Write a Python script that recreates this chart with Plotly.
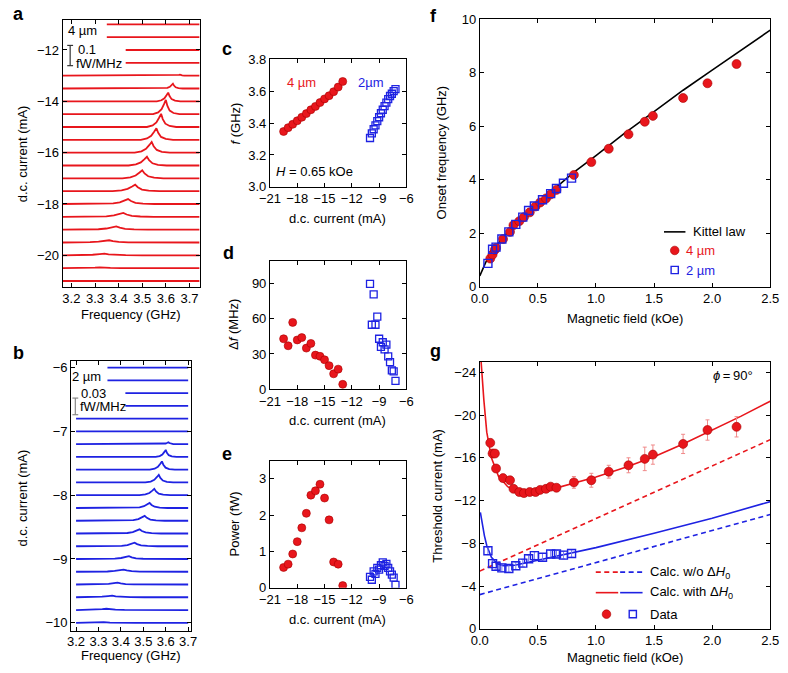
import plotly.graph_objects as go

W, H = 788, 673
RED = "#e8161c"
RED_EDGE = "#a80000"
RED_ERR = "#f08a8a"
BLUE = "#1e22e2"
FONT = "Liberation Sans, Arial, Helvetica, sans-serif"

# ---------------- panel a : 4 um spectra ----------------
a_currents = [-11.0, -11.5, -12.0, -12.5, -13.0, -13.5, -14.0, -14.5, -15.0, -15.5, -16.0,
              -16.5, -17.0, -17.5, -18.0, -18.5, -19.0, -19.5, -20.0, -20.5, -21.0]
a_start = [3.35, 3.35, 3.43, 3.43, 3.163, 3.163, 3.163, 3.163, 3.163, 3.163, 3.163,
           3.163, 3.163, 3.163, 3.163, 3.163, 3.163, 3.163, 3.163, 3.163, 3.163]
a_end = 3.742
a_peak_f = [3.70, 3.70, 3.70, 3.70, 3.66, 3.63, 3.61, 3.60, 3.58, 3.56, 3.54,
            3.52, 3.50, 3.47, 3.44, 3.42, 3.39, 3.36, 3.34, 3.32, 3.30]
a_peak_h = [0, 0, 0, 0, 0.005, 0.024, 0.043, 0.070, 0.065, 0.057, 0.053,
            0.043, 0.040, 0.032, 0.024, 0.019, 0.016, 0.011, 0.008, 0.004, 0]   # fW/MHz
a_peak_w = [0.01, 0.01, 0.01, 0.01, 0.010, 0.013, 0.016, 0.018, 0.02, 0.022, 0.024,
            0.026, 0.028, 0.032, 0.035, 0.04, 0.042, 0.045, 0.05, 0.05, 0.05]    # GHz
A_SCALE = 7.9   # offset (mA) per fW/MHz

# ---------------- panel b : 2 um spectra ----------------
b_currents = [-6.0, -6.2, -6.4, -6.6, -6.8, -7.0, -7.2, -7.4, -7.6, -7.8, -8.0,
              -8.2, -8.4, -8.6, -8.8, -9.0, -9.2, -9.4, -9.6, -9.8, -10.0]
b_start = [3.34, 3.34, 3.42, 3.42, 3.2, 3.2, 3.2, 3.2, 3.2, 3.2, 3.2,
           3.2, 3.2, 3.2, 3.2, 3.2, 3.2, 3.2, 3.2, 3.2, 3.2]
b_end = 3.70
b_peak_f = [3.7, 3.7, 3.7, 3.7, 3.7, 3.7, 3.612, 3.600, 3.583, 3.569, 3.549,
            3.528, 3.506, 3.483, 3.461, 3.436, 3.412, 3.385, 3.361, 3.335, 3.306]
b_peak_h = [0, 0, 0, 0, 0, 0, 0.0035, 0.0127, 0.0150, 0.0138, 0.0115,
            0.0092, 0.0087, 0.0075, 0.0063, 0.0052, 0.0040, 0.0035, 0.0029, 0.0023, 0.0017]
b_peak_w = [0.01, 0.01, 0.01, 0.01, 0.01, 0.01, 0.012, 0.015, 0.018, 0.02, 0.022,
            0.025, 0.028, 0.03, 0.032, 0.035, 0.04, 0.04, 0.045, 0.045, 0.05]
B_SCALE = 8.67

# peak profile (offset in widths, fraction of height)
prof_off = [-3.0, -1.8, -1.0, -0.4, 0.0, 0.35, 0.9, 1.8, 3.2]
prof_frac = [0.0, 0.12, 0.35, 0.72, 1.0, 0.6, 0.25, 0.08, 0.0]

# ---------------- panels c, d, e ----------------
I4 = [-19.5, -19.0, -18.5, -18.0, -17.5, -17.0, -16.5, -16.0, -15.5, -15.0, -14.5, -14.0, -13.5, -13.0]
c_f4 = [3.347, 3.371, 3.392, 3.414, 3.436, 3.459, 3.483, 3.504, 3.528, 3.551, 3.571, 3.596, 3.625, 3.660]
d_df4 = [43, 37, 57, 42, 44, 35, 39, 29, 28, 25, 20, 13, 17, 4]
e_P4 = [0.56, 0.65, 0.93, 1.27, 1.65, 2.05, 2.55, 2.67, 2.85, 2.47, 1.87, 0.71, 0.65, 0.06]

I2 = [-10.0, -9.8, -9.6, -9.4, -9.2, -9.0, -8.8, -8.6, -8.4, -8.2, -8.0, -7.8, -7.6, -7.4, -7.2]
c_f2 = [3.306, 3.335, 3.361, 3.385, 3.412, 3.436, 3.461, 3.483, 3.506, 3.528, 3.549, 3.569, 3.583, 3.600, 3.612]
d_df2 = [90, 55, 81, 55, 62, 43, 36, 40, 34, 38, 28, 23, 16, 15, 7]
e_P2 = [0.30, 0.22, 0.45, 0.38, 0.55, 0.50, 0.62, 0.70, 0.60, 0.66, 0.55, 0.45, 0.36, 0.28, 0.08]

# ---------------- panel f ----------------
kit_H = [0.0, 0.05, 0.1, 0.2, 0.3, 0.4, 0.5, 0.6, 0.8, 1.0, 1.25, 1.5, 1.75, 2.0, 2.25, 2.5]
kit_f = [0.4, 0.9, 1.3, 1.85, 2.3, 2.72, 3.12, 3.5, 4.25, 4.9, 5.75, 6.55, 7.35, 8.1, 8.85, 9.6]
H4 = [0.09, 0.11, 0.13, 0.14, 0.20, 0.26, 0.29, 0.34, 0.38, 0.43, 0.48, 0.52, 0.57, 0.61, 0.66,
      0.81, 0.96, 1.11, 1.28, 1.42, 1.49, 1.75, 1.96, 2.21]
f_f4 = [1.05, 1.20, 1.38, 1.45, 1.78, 2.05, 2.30, 2.45, 2.60, 2.78, 3.00, 3.15, 3.30, 3.45, 3.62,
        4.18, 4.66, 5.16, 5.70, 6.17, 6.39, 7.06, 7.61, 8.33]
H2 = [0.07, 0.11, 0.14, 0.19, 0.25, 0.31, 0.37, 0.42, 0.47, 0.54, 0.61, 0.66, 0.72, 0.79]
f_f2 = [0.87, 1.40, 1.48, 1.78, 2.05, 2.33, 2.60, 2.85, 3.02, 3.25, 3.48, 3.67, 3.87, 4.06]

# ---------------- panel g ----------------
g_I4 = [-17.4, -16.4, -16.4, -15.0, -14.1, -13.9, -13.1, -12.8, -12.7, -12.8, -12.8, -13.0, -13.1,
        -13.3, -13.2, -13.7, -13.9, -14.7, -15.3, -15.9, -16.3, -17.3, -18.6, -18.9]
g_err4 = [0.3, 0.3, 0.3, 0.3, 0.3, 0.3, 0.3, 0.3, 0.3, 0.3, 0.3, 0.3, 0.3, 0.3, 0.3,
          0.55, 0.65, 0.6, 0.7, 1.1, 0.9, 0.9, 0.95, 0.95]
g_I2 = [-7.3, -6.1, -5.85, -5.7, -5.65, -5.9, -6.15, -6.55, -6.85, -6.7, -7.0, -7.0, -6.9, -7.05]
g_err2 = [0.35, 0.35, 0.35, 0.35, 0.35, 0.35, 0.35, 0.35, 0.35, 0.35, 0.35, 0.35, 0.35, 0.35]
rw_H = [0.008, 0.02, 0.035, 0.06, 0.1, 0.16, 0.24, 0.33, 0.45, 0.6, 0.8, 1.0, 1.25, 1.5, 1.75, 2.0, 2.25, 2.5]
rw_I = [-25.5, -23.5, -21.4, -18.4, -16.0, -14.3, -13.3, -12.8, -12.75, -13.0, -13.6, -14.2, -15.1,
        -16.1, -17.3, -18.6, -19.9, -21.3]
ro_H = [0.0, 2.5]
ro_I = [-5.4, -17.7]
bw_H = [0.005, 0.02, 0.04, 0.06, 0.1, 0.15, 0.2, 0.3, 0.45, 0.6, 0.8, 1.0, 1.5, 2.0, 2.5]
bw_I = [-10.9, -9.8, -8.7, -7.8, -6.7, -6.1, -5.9, -5.95, -6.3, -6.65, -7.1, -7.6, -8.95, -10.35, -11.9]
bo_H = [0.0, 2.5]
bo_I = [-3.2, -10.7]

# ---------------- layout geometry (pixels) ----------------
boxes = {
    "a": (53, 194, 13, 286),
    "b": (61.7, 184.3, 361.7, 638.3),
    "c": (265.7, 405.7, 53.3, 184),
    "d": (265.7, 405.7, 259.3, 390.7),
    "e": (265.7, 405.7, 464, 594),
    "f": (481, 779, 12.7, 286),
    "g": (481, 779, 362.7, 636),
}
order = ["a", "b", "c", "d", "e", "f", "g"]


def px(x):
    return x / W


def py(y):
    return 1 - y / H


def mtxt(v):
    s = ("%g" % abs(v))
    return ("\u2212" + s) if v < 0 else s


fig = go.Figure()
axref = {k: (("x" if i == 0 else "x%d" % (i + 1)), ("y" if i == 0 else "y%d" % (i + 1)))
         for i, k in enumerate(order)}


def spectrum(cur, start, end, f0, h, w, scale):
    xs, ys = [start], [cur]
    if h > 0:
        for o, fr in zip(prof_off, prof_frac):
            x = f0 + o * w
            if start < x < end:
                xs.append(x)
                ys.append(cur + h * scale * fr)
    xs.append(end)
    ys.append(cur)
    return xs, ys


xa, ya = axref["a"]
for i, cur in enumerate(a_currents):
    xs, ys = spectrum(cur, a_start[i], a_end, a_peak_f[i], a_peak_h[i], a_peak_w[i], A_SCALE)
    fig.add_trace(go.Scatter(x=xs, y=ys, mode="lines", line=dict(color=RED, width=1.8),
                             xaxis=xa, yaxis=ya, showlegend=False, hoverinfo="skip"))
xb, yb = axref["b"]
for i, cur in enumerate(b_currents):
    xs, ys = spectrum(cur, b_start[i], b_end, b_peak_f[i], b_peak_h[i], b_peak_w[i], B_SCALE)
    fig.add_trace(go.Scatter(x=xs, y=ys, mode="lines", line=dict(color=BLUE, width=1.8),
                             xaxis=xb, yaxis=yb, showlegend=False, hoverinfo="skip"))

red_marker = dict(symbol="circle", size=8, color=RED, line=dict(color=RED_EDGE, width=0.6))
blue_marker = dict(symbol="square-open", size=7, color=BLUE, line=dict(color=BLUE, width=1.3))

for key, y4, y2 in [("c", c_f4, c_f2), ("d", d_df4, d_df2), ("e", e_P4, e_P2)]:
    xx, yy = axref[key]
    fig.add_trace(go.Scatter(x=I4, y=y4, mode="markers", marker=red_marker, xaxis=xx, yaxis=yy,
                             showlegend=False))
    fig.add_trace(go.Scatter(x=I2, y=y2, mode="markers", marker=blue_marker, xaxis=xx, yaxis=yy,
                             showlegend=False))

red_marker_big = dict(symbol="circle", size=9, color=RED, line=dict(color=RED_EDGE, width=0.6))
blue_marker_big = dict(symbol="square-open", size=8, color=BLUE, line=dict(color=BLUE, width=1.4))

xf, yf = axref["f"]
fig.add_trace(go.Scatter(x=kit_H, y=kit_f, mode="lines", line=dict(color="black", width=1.6),
                         xaxis=xf, yaxis=yf, showlegend=False))
fig.add_trace(go.Scatter(x=H4, y=f_f4, mode="markers", marker=red_marker_big, xaxis=xf, yaxis=yf,
                         showlegend=False))
fig.add_trace(go.Scatter(x=H2, y=f_f2, mode="markers", marker=blue_marker_big, xaxis=xf, yaxis=yf,
                         showlegend=False))

xg, yg = axref["g"]
DASH = "5px,3.5px"
fig.add_trace(go.Scatter(x=ro_H, y=ro_I, mode="lines", line=dict(color=RED, width=1.6, dash=DASH),
                         xaxis=xg, yaxis=yg, showlegend=False))
fig.add_trace(go.Scatter(x=bo_H, y=bo_I, mode="lines", line=dict(color=BLUE, width=1.6, dash=DASH),
                         xaxis=xg, yaxis=yg, showlegend=False))
fig.add_trace(go.Scatter(x=rw_H, y=rw_I, mode="lines", line=dict(color=RED, width=1.6),
                         xaxis=xg, yaxis=yg, showlegend=False))
fig.add_trace(go.Scatter(x=bw_H, y=bw_I, mode="lines", line=dict(color=BLUE, width=1.6),
                         xaxis=xg, yaxis=yg, showlegend=False))
fig.add_trace(go.Scatter(x=H4, y=g_I4, mode="markers", marker=red_marker_big,
                         error_y=dict(type="data", array=g_err4, color=RED_ERR, thickness=1, width=2),
                         xaxis=xg, yaxis=yg, showlegend=False))
fig.add_trace(go.Scatter(x=H2, y=g_I2, mode="markers", marker=blue_marker_big,
                         error_y=dict(type="data", array=g_err2, color="#7a7cf0", thickness=1, width=2),
                         xaxis=xg, yaxis=yg, showlegend=False))

# ---------------- axes ----------------
axis_specs = {
    "a": dict(xr=[3.163, 3.745], xt=[3.2, 3.3, 3.4, 3.5, 3.6, 3.7],
              yr=[-21.22, -10.82], yt=[-12, -14, -16, -18, -20]),
    "b": dict(xr=[3.178, 3.711], xt=[3.2, 3.3, 3.4, 3.5, 3.6, 3.7],
              yr=[-10.13, -5.89], yt=[-6, -7, -8, -9, -10]),
    "c": dict(xr=[-21, -6], xt=[-21, -18, -15, -12, -9, -6],
              yr=[3.0, 3.8], yt=[3.0, 3.2, 3.4, 3.6, 3.8]),
    "d": dict(xr=[-21, -6], xt=[-21, -18, -15, -12, -9, -6],
              yr=[0, 110], yt=[0, 30, 60, 90]),
    "e": dict(xr=[-21, -6], xt=[-21, -18, -15, -12, -9, -6],
              yr=[0, 3.5], yt=[0, 1, 2, 3]),
    "f": dict(xr=[0, 2.5], xt=[0, 0.5, 1.0, 1.5, 2.0, 2.5],
              yr=[0, 10], yt=[0, 2, 4, 6, 8, 10]),
    "g": dict(xr=[0, 2.5], xt=[0, 0.5, 1.0, 1.5, 2.0, 2.5],
              yr=[0, -25], yt=[0, -4, -8, -12, -16, -20, -24]),
}

fmt_x = {"a": "%.1f", "b": "%.1f", "f": "%.1f", "g": "%.1f"}
fmt_y = {"c": "%.1f"}
x_standoff = {"b": -2}

layout_axes = {}
for i, k in enumerate(order):
    x0, x1, y0, y1 = boxes[k]
    sp = axis_specs[k]
    xname = "xaxis" if i == 0 else "xaxis%d" % (i + 1)
    yname = "yaxis" if i == 0 else "yaxis%d" % (i + 1)
    xtt = [(fmt_x[k] % v) if k in fmt_x else mtxt(v) for v in sp["xt"]]
    ytt = [(fmt_y[k] % v) if k in fmt_y else mtxt(v) for v in sp["yt"]]
    common = dict(ticks="inside", ticklen=4, tickwidth=1, tickcolor="black", showline=True,
                  linecolor="black", linewidth=1, mirror="ticks", showgrid=False, zeroline=False,
                  tickfont=dict(size=13, color="black", family=FONT))
    layout_axes[xname] = dict(domain=[px(x0), px(x1)], range=sp["xr"], tickvals=sp["xt"],
                              ticktext=xtt, anchor=axref[k][1],
                              ticklabelstandoff=x_standoff.get(k, 0), **common)
    layout_axes[yname] = dict(domain=[py(y1), py(y0)], range=sp["yr"], tickvals=sp["yt"],
                              ticktext=ytt, anchor=axref[k][0], **common)

annotations = []


def ann(text, x, y, xanchor="center", size=13, color="black", angle=0, bold=False):
    annotations.append(dict(text=("<b>%s</b>" % text) if bold else text, x=px(x), y=py(y),
                            xref="paper", yref="paper", xanchor=xanchor, yanchor="middle",
                            showarrow=False, textangle=angle,
                            font=dict(size=size, color=color, family=FONT)))


# panel letters
for t, x, y in [("a", 8, 7), ("b", 8, 354), ("c", 222, 43), ("d", 223, 252), ("e", 222, 457),
                ("f", 433, 9), ("g", 436, 352)]:
    ann(t, x, y, size=18, bold=True)

# axis titles
ann("d.c. current (mA)", 12, 150, angle=-90)
ann("Frequency (GHz)", 123, 314)
ann("d.c. current (mA)", 12, 502, angle=-90)
ann("Frequency (GHz)", 123, 663)
ann("<i>f</i> (GHz)", 230, 119, angle=-90)
ann("d.c. current (mA)", 335, 216)
ann("\u0394<i>f</i> (MHz)", 229, 325, angle=-90)
ann("d.c. current (mA)", 335, 423)
ann("Power (fW)", 229, 529, angle=-90)
ann("d.c. current (mA)", 335, 626)
ann("Onset frequency (GHz)", 442, 149, angle=-90)
ann("Magnetic field (kOe)", 630, 319)
ann("Threshold current (mA)", 438, 500, angle=-90)
ann("Magnetic field (kOe)", 630, 665)

# in-panel labels
ann("4 \u00b5m", 56, 24, xanchor="left")
ann("0.1", 67, 43, xanchor="left")
ann("fW/MHz", 65, 58, xanchor="left")
ann("2 \u00b5m", 61, 378, xanchor="left")
ann("0.03", 70, 395, xanchor="left")
ann("fW/MHz", 69, 409, xanchor="left")
ann("4 \u00b5m", 298, 77, color=RED)
ann("2\u00b5m", 369, 77, color=BLUE)
ann("<i>H</i> = 0.65 kOe", 311, 168)
ann("<i>\u03d5</i>\u2009=\u200990\u00b0", 741, 377)

# legend texts
ann("Kittel law", 698, 230, xanchor="left")
ann("4 \u00b5m", 691, 249, xanchor="left", color=RED)
ann("2 \u00b5m", 691, 269, xanchor="left", color=BLUE)
ann("Calc. w/o \u0394<i>H</i><sub>0</sub>", 654, 578, xanchor="left")
ann("Calc. with \u0394<i>H</i><sub>0</sub>", 654, 599, xanchor="left")
ann("Data", 654, 621, xanchor="left")

shapes = []


def line_shape(x0, y0, x1, y1, color, width=1.5, dash="solid"):
    shapes.append(dict(type="line", xref="paper", yref="paper", x0=px(x0), y0=py(y0), x1=px(x1),
                       y1=py(y1), line=dict(color=color, width=width, dash=dash)))


def marker_shape(kind, x, y, r, fill, color, width):
    shapes.append(dict(type=kind, xref="paper", yref="paper", xsizemode="pixel", ysizemode="pixel",
                       xanchor=px(x), yanchor=py(y), x0=-r, x1=r, y0=-r, y1=r,
                       fillcolor=fill, line=dict(color=color, width=width)))


# scale bars
for (x, y0, y1, c) in [(60.7, 39.3, 60, "#333333"), (66, 400, 417, "#888888")]:
    line_shape(x, y0, x, y1, c, 1.2)
    line_shape(x - 3, y0, x + 3, y0, c, 1.2)
    line_shape(x - 3, y1, x + 3, y1, c, 1.2)

# legend f
line_shape(670, 230, 692, 230, "black", 1.6)
marker_shape("circle", 681, 249, 4.3, RED, RED_EDGE, 0.6)
marker_shape("rect", 681, 269, 3.6, "rgba(0,0,0,0)", BLUE, 1.4)
# legend g
line_shape(600, 578, 623, 578, RED, 1.6, DASH)
line_shape(625, 578, 648, 578, BLUE, 1.6, DASH)
line_shape(600, 599, 623, 599, RED, 1.6)
line_shape(625, 599, 648, 599, BLUE, 1.6)
marker_shape("circle", 611, 621, 4.3, RED, RED_EDGE, 0.6)
marker_shape("rect", 638, 621, 3.6, "rgba(0,0,0,0)", BLUE, 1.4)

fig.update_layout(width=W, height=H, margin=dict(l=0, r=0, t=0, b=0),
                  paper_bgcolor="white", plot_bgcolor="white",
                  font=dict(family=FONT, size=13, color="black"),
                  annotations=annotations, shapes=shapes, showlegend=False, **layout_axes)

fig.write_html("out.html", config={"displayModeBar": False},
               post_script="document.body.style.margin='0';document.body.style.overflow='hidden';")
